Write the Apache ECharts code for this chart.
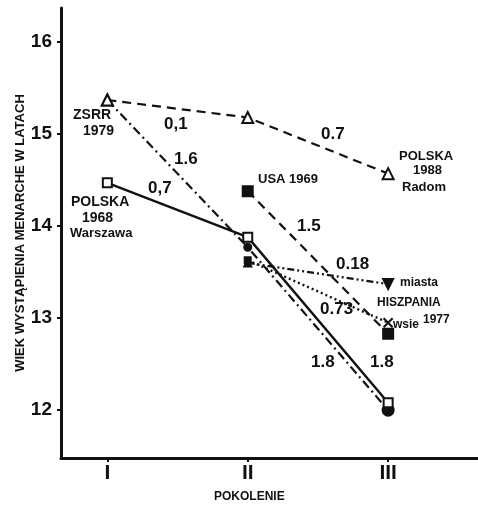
<!DOCTYPE html>
<html>
<head>
<meta charset="utf-8">
<script src="https://cdn.jsdelivr.net/npm/echarts@6/dist/echarts.min.js"></script>
<style>
  html, body { margin: 0; padding: 0; background: #fff; }
  #chart { width: 478px; height: 510px; }
</style>
</head>
<body>
<div id="chart"></div>
<script>
// generations on the x axis
const gens = ["I", "II", "III"];
const genPos = [1, 2, 3];
const yTicks = [12, 13, 14, 15, 16];

// age at menarche (years)
const radom = [15.37, 15.18, 14.57];      // POLSKA 1988 Radom
const zsrr = [15.37, 13.77, 12.0];        // ZSRR 1979
const warszawa = [14.47, 13.88, 12.08];   // POLSKA 1968 Warszawa
const usa = [null, 14.38, 12.83];         // USA 1969
const miasta = [null, 13.6, 13.37];       // HISZPANIA 1977 miasta
const wsie = [null, 13.63, 12.95];        // HISZPANIA 1977 wsie

const FONT = "'Liberation Sans Narrow', 'Liberation Sans', sans-serif";

const chart = echarts.init(document.getElementById("chart"));

function pts(vals) {
  return vals
    .map((v, i) => (v == null ? null : [genPos[i], v]))
    .filter((p) => p !== null);
}

const xMark = "path://M0,0L10,10M10,0L0,10";

function line(name, vals, lineType, width, marks, z) {
  const data = pts(vals).map((p, i) => {
    const m = marks[i] || { symbol: "none" };
    return {
      value: p,
      symbol: m.symbol,
      symbolSize: m.size || 8,
      symbolRotate: m.rotate || 0,
      itemStyle: {
        color: m.fill ? "#111" : "#fff",
        borderColor: "#111",
        borderWidth: m.bw || 2,
      },
    };
  });
  return {
    name,
    type: "line",
    data,
    z: z || 2,
    lineStyle: { color: "#111", width, type: lineType },
    emphasis: { disabled: true },
    animation: false,
  };
}

const openTri = { symbol: "triangle", size: 11 };
const openSq = { symbol: "rect", size: 9 };

function txt(left, top, text, size, weight) {
  return {
    type: "text",
    left,
    top,
    style: {
      text,
      fill: "#111",
      font: (weight || "bold") + " " + (size || 14) + "px " + FONT,
    },
  };
}

const option = {
  backgroundColor: "#fff",
  grid: { left: 61, right: 0, top: 8, bottom: 52 },
  xAxis: {
    type: "value",
    min: 0.67,
    max: 3.64,
    axisLine: { lineStyle: { color: "#111", width: 3 } },
    axisTick: {
      customValues: genPos,
      length: 4,
      lineStyle: { color: "#111", width: 2 },
    },
    axisLabel: {
      customValues: genPos,
      formatter: (v) => gens[Math.round(v) - 1],
      color: "#111",
      fontFamily: FONT,
      fontWeight: "bold",
      fontSize: 21,
      margin: 5,
    },
    splitLine: { show: false },
  },
  yAxis: {
    type: "value",
    min: 11.48,
    max: 16.37,
    name: "WIEK WYSTĄPIENIA MENARCHE W LATACH",
    nameLocation: "middle",
    nameRotate: 90,
    nameGap: 34,
    nameMoveOverlap: false,
    nameTextStyle: {
      color: "#111",
      fontFamily: FONT,
      fontWeight: "bold",
      fontSize: 13,
    },
    axisLine: { show: true, lineStyle: { color: "#111", width: 3 } },
    axisTick: {
      show: true,
      customValues: yTicks,
      length: 4,
      lineStyle: { color: "#111", width: 2 },
    },
    axisLabel: {
      customValues: yTicks,
      color: "#111",
      fontFamily: FONT,
      fontWeight: "bold",
      fontSize: 19,
      margin: 9,
    },
    splitLine: { show: false },
  },
  series: [
    line("POLSKA 1988 Radom", radom, [9, 6], 2.2, [openTri, openTri, openTri], 3),
    line("ZSRR 1979", zsrr, [9, 4, 2, 4], 2.2,
      [openTri, { symbol: "circle", size: 7, fill: true }, { symbol: "circle", size: 11, fill: true }]),
    line("POLSKA 1968 Warszawa", warszawa, "solid", 2.4,
      [openSq, openSq, openSq], 4),
    line("USA 1969", usa, [9, 6], 2.2,
      [{ symbol: "rect", size: 10, fill: true }, { symbol: "rect", size: 10, fill: true }]),
    line("HISZPANIA 1977 miasta", miasta, [7, 3, 2, 3, 2, 3], 2.2,
      [{ symbol: "triangle", size: 7, fill: true }, { symbol: "triangle", size: 10, fill: true, rotate: 180 }]),
    line("HISZPANIA 1977 wsie", wsie, [2, 3], 2.4,
      [{ symbol: "rect", size: 6, fill: true }, { symbol: xMark, size: 9 }]),
  ],
  graphic: [
    txt(73, 108, "ZSRR"),
    txt(83, 124, "1979"),
    txt(164, 116, "0,1", 17),
    txt(174, 151, "1.6", 17),
    txt(148, 180, "0,7", 17),
    txt(71, 195, "POLSKA"),
    txt(82, 211, "1968"),
    txt(70, 227, "Warszawa", 13),
    txt(321, 126, "0.7", 17),
    txt(399, 150, "POLSKA", 13),
    txt(413, 164, "1988", 13),
    txt(402, 181, "Radom", 13),
    txt(258, 173, "USA 1969", 13),
    txt(297, 218, "1.5", 17),
    txt(336, 256, "0.18", 17),
    txt(400, 277, "miasta", 12),
    txt(377, 297, "HISZPANIA", 12),
    txt(393, 319, "wsie", 12),
    txt(423, 314, "1977", 12),
    txt(320, 301, "0.73", 17),
    txt(311, 354, "1.8", 17),
    txt(370, 354, "1.8", 17),
    txt(214, 491, "POKOLENIE", 12),
  ],
};

chart.setOption(option);
</script>
</body>
</html>
